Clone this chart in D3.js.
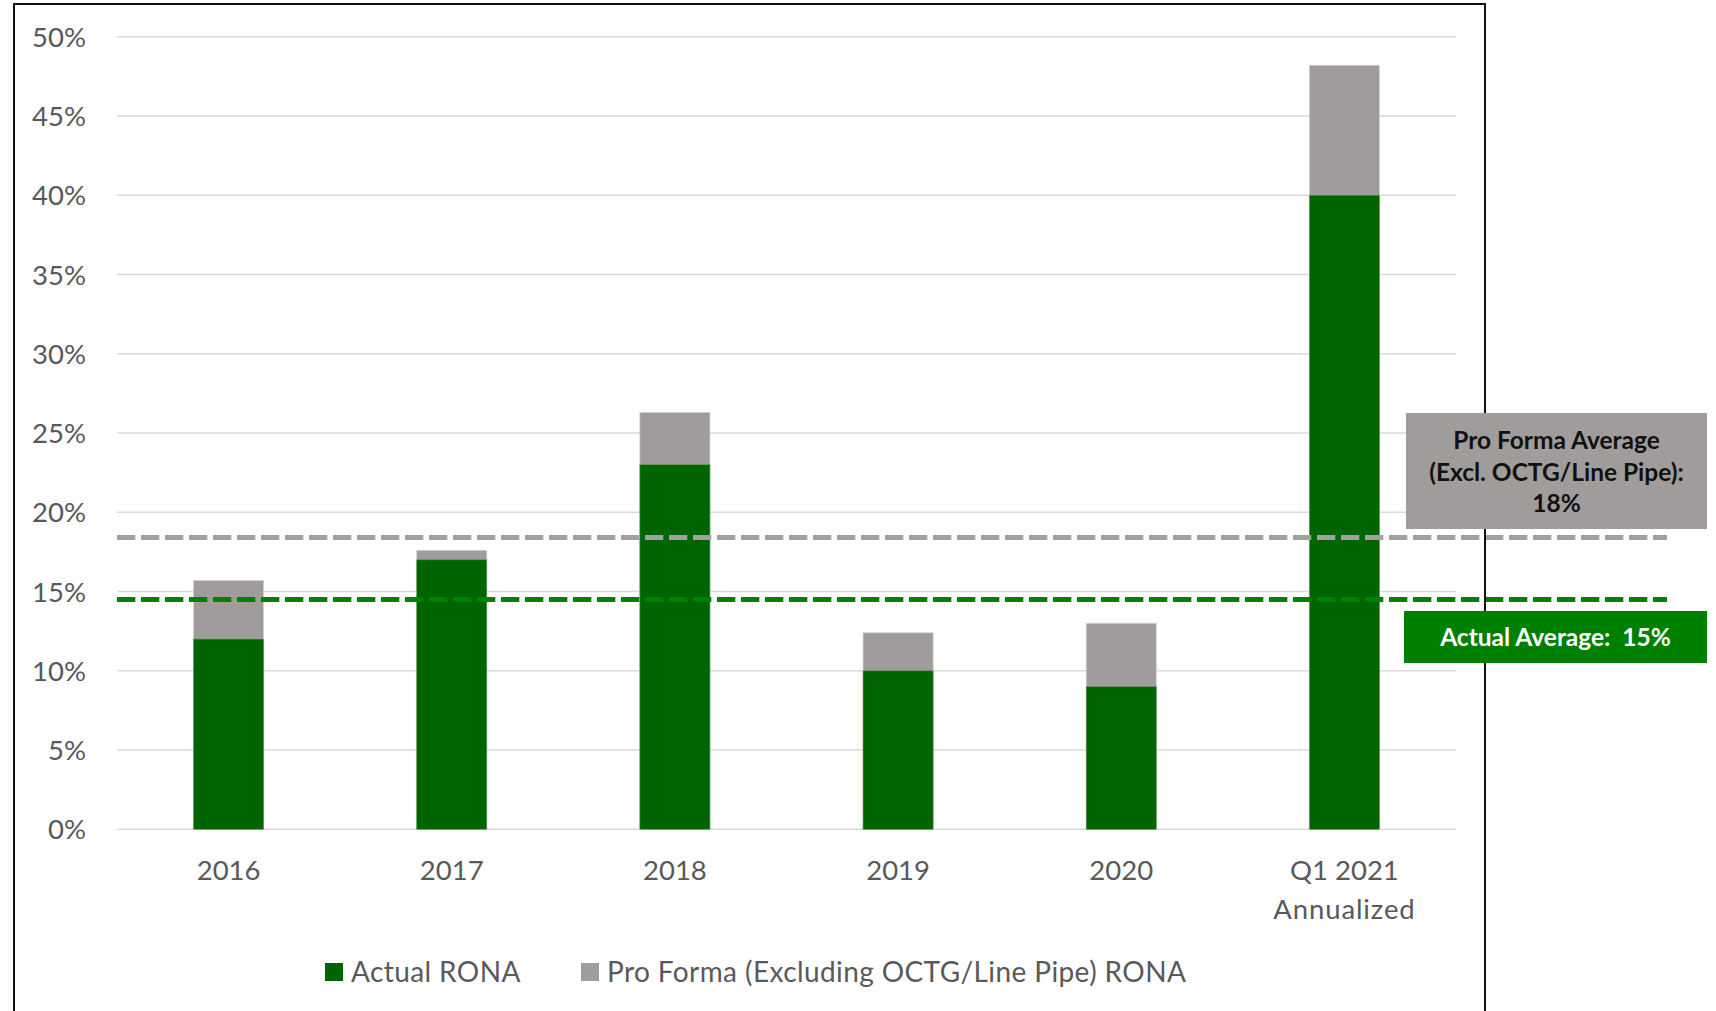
<!DOCTYPE html>
<html>
<head>
<meta charset="utf-8">
<script src="https://cdnjs.cloudflare.com/ajax/libs/d3/7.8.5/d3.min.js"></script>
<style>
  html, body { margin: 0; padding: 0; background: #ffffff; }
  svg { display: block; }
  text { font-family: Lato, "Open Sans", sans-serif; }
</style>
</head>
<body>
<svg id="chart" width="1716" height="1011"></svg>
<script>
// Return on net assets by year (percent)
const categories = ["2016", "2017", "2018", "2019", "2020", "Q1 2021\nAnnualized"];
const actualRona = [12, 17, 23, 10, 9, 40];
const proFormaRona = [15.7, 17.6, 26.3, 12.4, 13.0, 48.2];
const yTicks = [0, 5, 10, 15, 20, 25, 30, 35, 40, 45, 50];
const averages = [
  { key: "proForma", value: 18.4, lines: ["Pro Forma Average", "(Excl. OCTG/Line Pipe):"] },
  { key: "actual", value: 14.5, lines: ["Actual Average:  "] }
];
const legendItems = ["Actual RONA", "Pro Forma (Excluding OCTG/Line Pipe) RONA"];

const colors = {
  actual: "#006400",
  proForma: "#a09c9b",
  actualLine: "#008000",
  proFormaLine: "#a3a09f",
  actualBox: "#008000",
  proFormaBox: "#a09c9b",
  grid: "#d9d9d9",
  text: "#595959"
};

const svg = d3.select("#chart");
const plot = { left: 117, right: 1456, top: 36.7, bottom: 829.3 };

const x = d3.scaleBand()
  .domain(categories)
  .range([plot.left, plot.right])
  .paddingInner(0.686)
  .paddingOuter(0.343);

const y = d3.scaleLinear()
  .domain([0, 50])
  .range([plot.bottom, plot.top]);

// Gridlines
svg.append("g")
  .selectAll("line")
  .data(yTicks)
  .join("line")
  .attr("x1", plot.left)
  .attr("x2", plot.right)
  .attr("y1", d => y(d))
  .attr("y2", d => y(d))
  .attr("stroke", colors.grid)
  .attr("stroke-width", 1.5);

// Y axis labels
const yAxis = d3.axisLeft(y)
  .tickValues(yTicks)
  .tickFormat(d => d + "%")
  .tickSize(0)
  .tickPadding(0);
const yAxisG = svg.append("g")
  .attr("transform", "translate(86,0)")
  .call(yAxis);
yAxisG.select(".domain").remove();
yAxisG.selectAll("text")
  .attr("font-family", "Lato, sans-serif")
  .attr("font-size", 27.5)
  .attr("fill", colors.text)
  .attr("dy", "0.35em");

// Bars: pro forma behind, actual in front
const bars = svg.append("g");
bars.selectAll("rect.pf")
  .data(categories)
  .join("rect")
  .attr("class", "pf")
  .attr("x", d => x(d))
  .attr("width", x.bandwidth())
  .attr("y", (d, i) => y(proFormaRona[i]))
  .attr("height", (d, i) => y(0) - y(proFormaRona[i]))
  .attr("fill", colors.proForma)
  .attr("stroke", "#d4d2d2")
  .attr("stroke-width", 0.8);
bars.selectAll("rect.act")
  .data(categories)
  .join("rect")
  .attr("class", "act")
  .attr("x", d => x(d))
  .attr("width", x.bandwidth())
  .attr("y", (d, i) => y(actualRona[i]))
  .attr("height", (d, i) => y(0) - y(actualRona[i]))
  .attr("fill", colors.actual)
  .attr("stroke", "#6c9a6c")
  .attr("stroke-width", 0.6);

// X axis labels
const xAxis = d3.axisBottom(x).tickSize(0).tickPadding(0).tickFormat("");
const xAxisG = svg.append("g")
  .attr("transform", `translate(0,${plot.bottom})`)
  .call(xAxis);
xAxisG.select(".domain").remove();
xAxisG.selectAll(".tick").each(function(d) {
  const t = d3.select(this).append("text")
    .attr("text-anchor", "middle")
    .attr("font-family", "Lato, sans-serif")
    .attr("font-size", 27.5)
    .attr("fill", colors.text)
    .attr("y", 51);
  d.split("\n").forEach((line, i) => {
    t.append("tspan").attr("x", 0).attr("dy", i === 0 ? 0 : 38.5)
      .attr("letter-spacing", i === 0 ? 0 : 0.9)
      .text(line);
  });
});

// Average lines
const lineEnd = 1667;
svg.append("g")
  .selectAll("line")
  .data(averages)
  .join("line")
  .attr("x1", plot.left)
  .attr("x2", lineEnd)
  .attr("y1", d => y(d.value))
  .attr("y2", d => y(d.value))
  .attr("stroke", d => d.key === "actual" ? colors.actualLine : colors.proFormaLine)
  .attr("stroke-width", 5)
  .attr("stroke-dasharray", "18.3 5.7");

// Chart frame
svg.append("path")
  .attr("d", "M14,1030 V4 H1485 V1030")
  .attr("fill", "none")
  .attr("stroke", "#111111")
  .attr("stroke-width", 2);

// Average callout boxes
const pf = averages[0];
const act = averages[1];
const pct = v => Math.round(v) + "%";

svg.append("rect")
  .attr("x", 1406).attr("y", 413)
  .attr("width", 301).attr("height", 116)
  .attr("fill", colors.proFormaBox);
const pfText = svg.append("text")
  .attr("text-anchor", "middle")
  .attr("font-family", "Lato, sans-serif")
  .attr("font-weight", "bold")
  .attr("font-size", 24.5)
  .attr("fill", "#111111");
[...pf.lines, pct(pf.value)].forEach((line, i) => {
  pfText.append("tspan").attr("x", 1556.5).attr("y", 449 + i * 31.5).text(line);
});

svg.append("rect")
  .attr("x", 1404).attr("y", 611)
  .attr("width", 303).attr("height", 52)
  .attr("fill", colors.actualBox);
svg.append("text")
  .attr("x", 1555.5).attr("y", 646)
  .attr("text-anchor", "middle")
  .attr("font-family", "Lato, sans-serif")
  .attr("font-weight", "bold")
  .attr("font-size", 24.5)
  .attr("fill", "#ffffff")
  .attr("xml:space", "preserve")
  .style("white-space", "pre")
  .text(act.lines[0] + pct(act.value));

// Legend
const legendX = [325, 581];
const legendColors = [colors.actual, colors.proForma];
const legend = svg.append("g");
legendItems.forEach((label, i) => {
  legend.append("rect")
    .attr("x", legendX[i]).attr("y", 963)
    .attr("width", 18).attr("height", 18)
    .attr("fill", legendColors[i]);
  legend.append("text")
    .attr("x", legendX[i] + 26).attr("y", 981.5)
    .attr("font-family", "Lato, sans-serif")
    .attr("font-size", 28)
    .attr("letter-spacing", 0.4)
    .attr("fill", colors.text)
    .text(label);
});
</script>
</body>
</html>
